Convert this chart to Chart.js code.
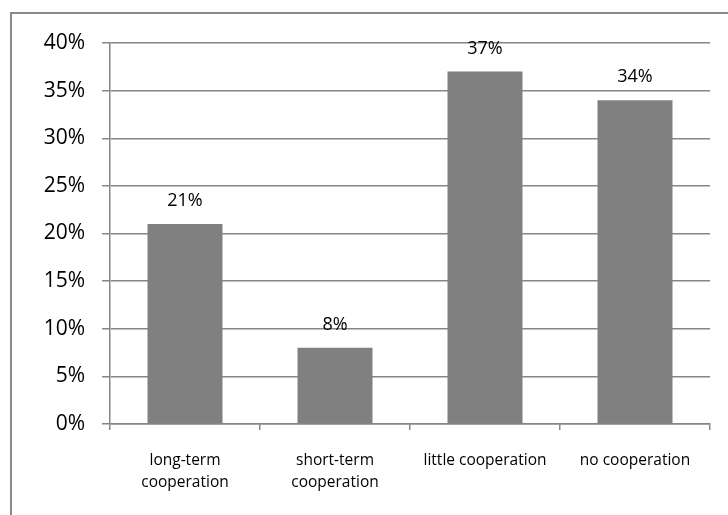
<!DOCTYPE html>
<html>
<head>
<meta charset="utf-8">
<script src="https://cdn.jsdelivr.net/npm/chart.js@4"></script>
<style>
  html, body { margin: 0; padding: 0; background: #fff; }
  #wrap { position: relative; width: 728px; height: 515px; }
</style>
</head>
<body>
<div id="wrap"><canvas id="c" width="728" height="515"></canvas></div>
<script>
const categories = [['long-term', 'cooperation'], ['short-term', 'cooperation'], 'little cooperation', 'no cooperation'];
const values = [21, 8, 37, 34];
const dataLabels = ['21%', '8%', '37%', '34%'];
const yTickLabels = ['0%', '5%', '10%', '15%', '20%', '25%', '30%', '35%', '40%'];

const FONT = '"Open Sans", "Liberation Sans", sans-serif';

const borderPlugin = {
  id: 'outerBorder',
  beforeDraw(chart) {
    const ctx = chart.ctx;
    ctx.save();
    ctx.fillStyle = '#fff';
    ctx.fillRect(0, 0, chart.width, chart.height);
    ctx.strokeStyle = '#8a8a8a';
    ctx.lineWidth = 2;
    ctx.strokeRect(11, 13, 800, 600);
    ctx.restore();
  }
};

const labelPlugin = {
  id: 'barLabels',
  afterDatasetsDraw(chart) {
    const ctx = chart.ctx;
    const meta = chart.getDatasetMeta(0);
    ctx.save();
    ctx.font = '18px ' + FONT;
    ctx.fillStyle = '#000';
    ctx.textAlign = 'center';
    ctx.textBaseline = 'alphabetic';
    meta.data.forEach((bar, i) => {
      ctx.fillText(dataLabels[i], bar.x, bar.y - 18);
    });
    ctx.restore();
  }
};

new Chart(document.getElementById('c'), {
  type: 'bar',
  data: {
    labels: categories,
    datasets: [{
      data: values,
      backgroundColor: '#808080',
      borderWidth: 0,
      barPercentage: 0.5,
      categoryPercentage: 1.0
    }]
  },
  options: {
    responsive: false,
    animation: false,
    devicePixelRatio: 1,
    layout: { padding: { top: 43, right: 18, left: 0, bottom: 0 } },
    plugins: { legend: { display: false }, tooltip: { enabled: false } },
    scales: {
      x: {
        offset: true,
        grid: {
          offset: true,
          drawOnChartArea: false,
          drawTicks: true,
          tickLength: 6,
          color: '#868686',
          lineWidth: 1.5
        },
        border: { display: true, color: '#868686', width: 1.5 },
        ticks: {
          color: '#000',
          font: { family: FONT, size: 15.5, lineHeight: 1.38 },
          padding: 20,
          maxRotation: 0,
          autoSkip: false
        },
        afterFit(scale) { scale.height = 91; }
      },
      y: {
        min: 0,
        max: 40,
        grid: {
          drawOnChartArea: true,
          drawTicks: true,
          tickLength: 8,
          color: '#868686',
          lineWidth: 1.5
        },
        border: { display: true, color: '#868686', width: 1.5 },
        ticks: {
          stepSize: 5,
          color: '#000',
          font: { family: FONT, size: 21 },
          padding: 17,
          callback: (v, i) => yTickLabels[i]
        },
        afterFit(scale) { scale.width = 110; }
      }
    }
  },
  plugins: [borderPlugin, labelPlugin]
});
</script>
</body>
</html>
